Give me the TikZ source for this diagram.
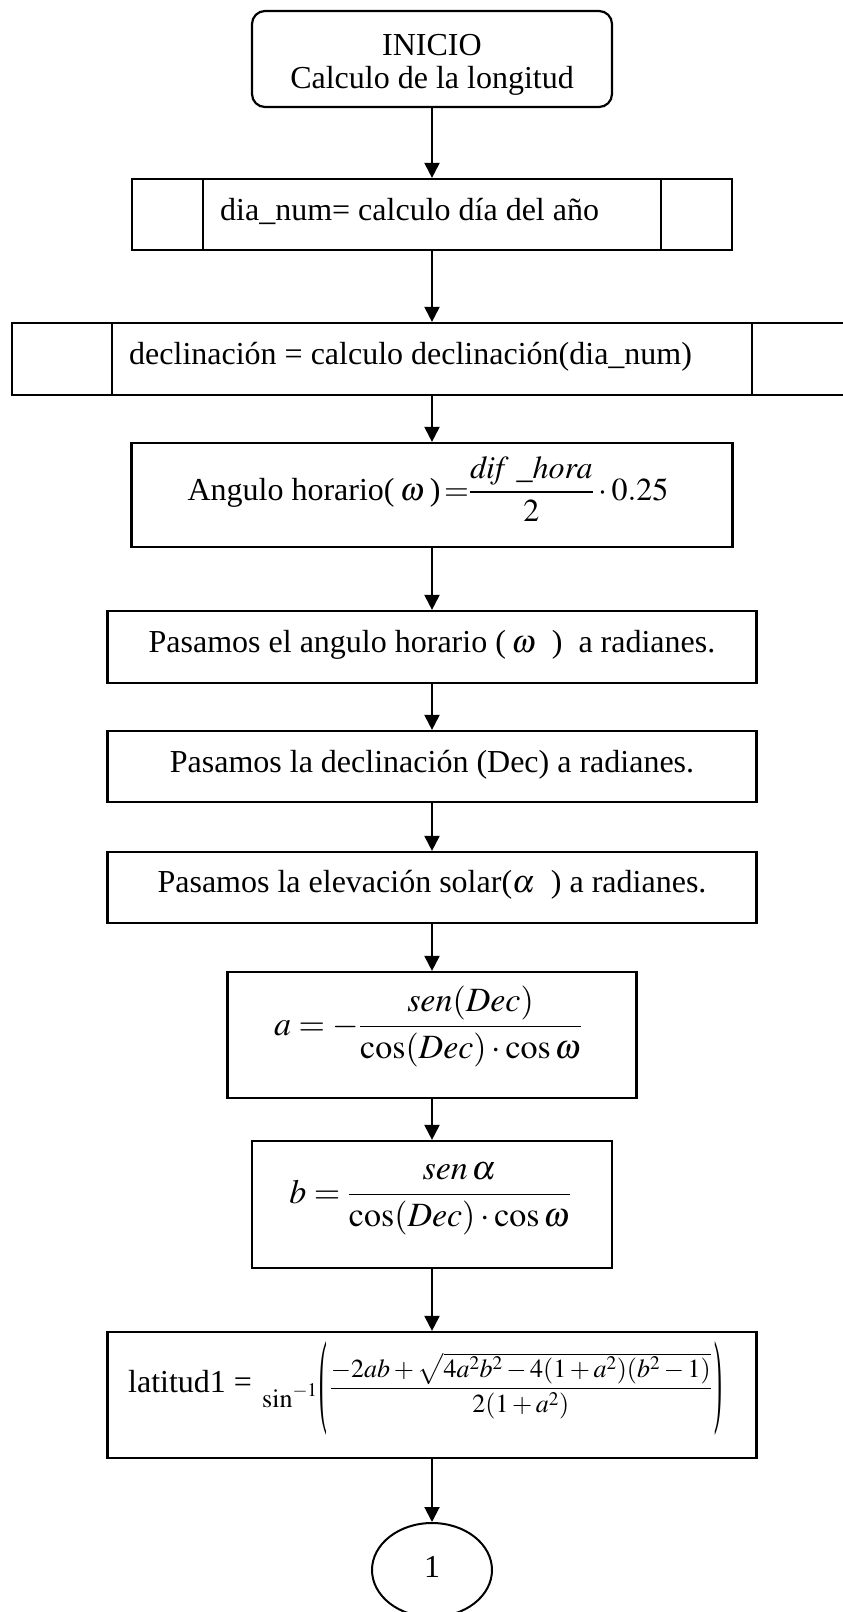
\documentclass[tikz,border=0pt]{standalone}
\usepackage{amsmath}
\usepackage{mathptmx}
\usepackage{graphicx}
\usepackage{fontspec}
\setmainfont{Liberation Serif}
\usetikzlibrary{arrows.meta,shapes.geometric}
% tall, thin parenthesis centred on the math axis
\newcommand{\tallparen}[1]{\vcenter{\hbox{\scalebox{0.9}[4]{#1}}}}
\begin{document}
\begin{tikzpicture}[x=1pt,y=-1pt,
  box/.style={draw, line width=2.2pt, inner sep=0pt, rectangle},
  sidebar/.style={line width=1.8pt},
  lbl/.style={inner sep=0pt, anchor=base, font=\fontsize{32}{38}\selectfont},
  eqn/.style={inner sep=0pt, anchor=base, font=\fontsize{34}{40}\selectfont},
  flow/.style={line width=2pt, -{Triangle[length=15pt,width=15pt]}}]
\useasboundingbox (0,0) rectangle (843,1612);
\fill[white] (0,0) rectangle (843,1612);

% start terminal
\node[box, rounded corners=13pt, minimum width=360pt, minimum height=96pt] (start) at (432,59) {};
\node[lbl] (startA) at (432,55) {INICIO};
\node[lbl] (startB) at (432,88) {Calculo de la longitud};

% predefined process: day of year
\node[box, minimum width=600pt, minimum height=71pt] (diaNum) at (432,214.5) {};
\draw[sidebar] ([xshift=72pt]diaNum.north west) -- ([xshift=72pt]diaNum.south west);
\draw[sidebar] ([xshift=-72pt]diaNum.north east) -- ([xshift=-72pt]diaNum.south east);
\node[lbl, anchor=base west] (diaNumT) at (220,220) {dia\_num= calculo día del año};

% predefined process: declination
\node[box, minimum width=840pt, minimum height=72pt] (decl) at (432,359) {};
\draw[sidebar] ([xshift=101pt]decl.north west) -- ([xshift=101pt]decl.south west);
\draw[sidebar] ([xshift=-101pt]decl.north east) -- ([xshift=-101pt]decl.south east);
\node[lbl, anchor=base west] (declT) at (129,364) {declinación = calculo declinación(dia\_num)};

% hour angle
\node[box, minimum width=601pt, minimum height=104pt] (ang) at (432,495) {};
\node[lbl] (angT) at (428,500) {Angulo horario(\,$\omega$\,)$\,=\!\!\dfrac{\mathit{dif}\ \_\mathit{hora}}{2}\cdot 0.25$};

% conversions to radians
\node[box, minimum width=649pt, minimum height=72pt] (rad1) at (432,647) {};
\node[lbl] (rad1T) at (432,652) {Pasamos el angulo horario (\,$\omega$\ \ )\ \ a radianes.};
\node[box, minimum width=649pt, minimum height=71pt] (rad2) at (432,766.5) {};
\node[lbl] (rad2T) at (432,772) {Pasamos la declinación (Dec) a radianes.};
\node[box, minimum width=649pt, minimum height=71pt] (rad3) at (432,887.5) {};
\node[lbl] (rad3T) at (432,892) {Pasamos la elevación solar($\alpha$\ \ ) a radianes.};

% coefficient a
\node[box, minimum width=409pt, minimum height=126pt] (aEq) at (432,1035) {};
\node[eqn] (aEqT) at (428,1035) {$a=-\dfrac{\mathit{sen}(\mathit{Dec})}{\cos(\mathit{Dec})\cdot\cos\omega}$};

% coefficient b
\node[box, minimum width=360pt, minimum height=127pt] (bEq) at (432,1204.5) {};
\node[eqn] (bEqT) at (430,1203) {$b=\dfrac{\mathit{sen}\,\alpha}{\cos(\mathit{Dec})\cdot\cos\omega}$};

% latitude
\node[box, minimum width=649pt, minimum height=126pt] (lat) at (432,1395) {};
\node[lbl, anchor=base west] (latT) at (128,1392) {latitud1 =};
\node[inner sep=0pt, anchor=base west, font=\fontsize{26}{31}\selectfont] (latEq) at (262,1395)
  {$\lower12pt\hbox{$\sin^{-1}$}\mkern1mu\tallparen{(}\mkern2mu
   \dfrac{-2ab+\sqrt{4a^2b^2-4(1+a^2)(b^2-1)}}{2(1+a^2)}\mkern2mu\tallparen{)}$};

% off-page connector
\node[draw, ellipse, line width=2pt, inner sep=0pt, minimum width=120pt, minimum height=94pt] (conn) at (432,1570) {};
\node[lbl] (connT) at (432,1577) {1};

% flow arrows
\draw[flow] (start.south) -- (diaNum.north);
\draw[flow] (diaNum.south) -- (decl.north);
\draw[flow] (decl.south) -- (ang.north);
\draw[flow] (ang.south) -- (rad1.north);
\draw[flow] (rad1.south) -- (rad2.north);
\draw[flow] (rad2.south) -- (rad3.north);
\draw[flow] (rad3.south) -- (aEq.north);
\draw[flow] (aEq.south) -- (bEq.north);
\draw[flow] (bEq.south) -- (lat.north);
\draw[flow] (lat.south) -- (conn.north);
\end{tikzpicture}
\end{document}
